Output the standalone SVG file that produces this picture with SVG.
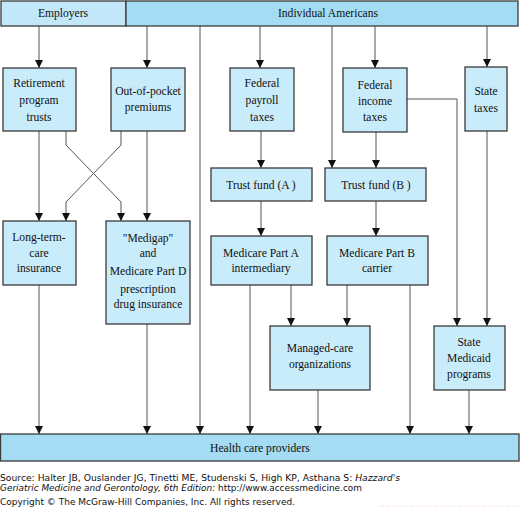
<svg xmlns="http://www.w3.org/2000/svg" width="520" height="507" viewBox="0 0 520 507">
<defs>
<marker id="ah" viewBox="0 0 10 10" refX="10" refY="5" markerWidth="8" markerHeight="8" markerUnits="userSpaceOnUse" orient="auto">
<path d="M0,0 L10,5 L0,10 Z" fill="#111"/>
</marker>
<style>
.box{fill:#c9ecfa;stroke:#3a3a3a;stroke-width:1.3}
.bar{fill:#a3dcf3;stroke:#3a3a3a;stroke-width:1.3}
.bar2{fill:#c2e7f8;stroke:#3a3a3a;stroke-width:1.3}
.c{fill:none;stroke:#555;stroke-width:1}
.a{marker-end:url(#ah)}
</style>
</defs>
<rect width="520" height="507" fill="#fff"/>

<g id="connectors">
<path class="c a" d="M39,26 V68"/>
<path class="c a" d="M147,26 V68"/>
<path class="c a" d="M200,26 V434"/>
<path class="c a" d="M260,26 V68"/>
<path class="c a" d="M332,26 V168"/>
<path class="c a" d="M375,26 V68"/>
<path class="c a" d="M487,26 V67"/>
<path class="c a" d="M39,131 V221"/>
<path class="c a" d="M66,131 V145 L121,202 V221"/>
<path class="c a" d="M121,131 V145 L66,202 V221"/>
<path class="c a" d="M147,131 V221"/>
<path class="c a" d="M261,131 V168"/>
<path class="c a" d="M376,131 V168"/>
<path class="c a" d="M407,99 H457 V326"/>
<path class="c a" d="M487,131 V326"/>
<path class="c a" d="M261,201 V236"/>
<path class="c a" d="M376,201 V236"/>
<path class="c a" d="M39,285 V434"/>
<path class="c a" d="M147,324 V434"/>
<path class="c a" d="M250,285 V434"/>
<path class="c a" d="M291,285 V326"/>
<path class="c a" d="M347,285 V326"/>
<path class="c a" d="M410,285 V434"/>
<path class="c a" d="M318,390 V434"/>
<path class="c a" d="M469,390 V434"/>
</g>

<g font-family="Liberation Serif, Times New Roman, serif" font-size="11.6" fill="#111" text-anchor="middle">
<g id="employers"><rect class="bar2" x="1" y="1" width="125" height="25"/><text x="63" y="17">Employers</text></g>
<g id="individual-americans"><rect class="bar" x="126" y="1" width="392" height="25"/><text x="328" y="17">Individual Americans</text></g>

<g id="retirement"><rect class="box" x="3" y="68" width="73" height="63"/><text x="39" y="87">Retirement</text><text x="39" y="104">program</text><text x="39" y="121">trusts</text></g>
<g id="out-of-pocket"><rect class="box" x="111" y="68" width="74" height="63"/><text x="148" y="95">Out-of-pocket</text><text x="148" y="111">premiums</text></g>
<g id="federal-payroll"><rect class="box" x="230" y="68" width="64" height="63"/><text x="262" y="87">Federal</text><text x="262" y="104">payroll</text><text x="262" y="121">taxes</text></g>
<g id="federal-income"><rect class="box" x="343" y="68" width="64" height="64"/><text x="375" y="89">Federal</text><text x="375" y="105">income</text><text x="375" y="121">taxes</text></g>
<g id="state-taxes"><rect class="box" x="465" y="67" width="42" height="64"/><text x="486" y="95">State</text><text x="486" y="112">taxes</text></g>

<g id="trust-a"><rect class="box" x="211" y="168" width="101" height="33"/><text x="261" y="189">Trust fund (A )</text></g>
<g id="trust-b"><rect class="box" x="325" y="168" width="101" height="33"/><text x="376" y="189">Trust fund (B )</text></g>

<g id="long-term-care"><rect class="box" x="3" y="221" width="73" height="64"/><text x="39" y="241">Long-term-</text><text x="39" y="257">care</text><text x="39" y="272">insurance</text></g>
<g id="medigap"><rect class="box" x="106" y="221" width="84" height="103"/><text x="148" y="242">"Medigap"</text><text x="148" y="257">and</text><text x="148" y="275">Medicare Part D</text><text x="148" y="293">prescription</text><text x="148" y="308">drug insurance</text></g>
<g id="part-a"><rect class="box" x="211" y="236" width="101" height="49"/><text x="261" y="257">Medicare Part A</text><text x="261" y="272">intermediary</text></g>
<g id="part-b"><rect class="box" x="327" y="236" width="101" height="49"/><text x="377" y="257">Medicare Part B</text><text x="377" y="272">carrier</text></g>

<g id="managed-care"><rect class="box" x="270" y="326" width="100" height="64"/><text x="320" y="352">Managed-care</text><text x="320" y="368">organizations</text></g>
<g id="state-medicaid"><rect class="box" x="434" y="326" width="71" height="64"/><text x="469" y="346">State</text><text x="469" y="362">Medicaid</text><text x="469" y="378">programs</text></g>

<g id="providers"><rect class="bar" x="0.5" y="434" width="518.5" height="27"/><text x="260" y="452">Health care providers</text></g>
</g>

<g id="source" font-family="DejaVu Sans, Verdana, sans-serif" font-size="8.3" fill="#111">
<text x="0" y="481" textLength="400" lengthAdjust="spacingAndGlyphs">Source: Halter JB, Ouslander JG, Tinetti ME, Studenski S, High KP, Asthana S: <tspan font-style="italic">Hazzard's</tspan></text>
<text x="0" y="491" textLength="362" lengthAdjust="spacingAndGlyphs"><tspan font-style="italic">Geriatric Medicine and Gerontology, 6th Edition:</tspan> http://www.accessmedicine.com</text>
<text x="0" y="505" textLength="295" lengthAdjust="spacingAndGlyphs">Copyright © The McGraw-Hill Companies, Inc. All rights reserved.</text>
<line x1="380" y1="506" x2="520" y2="506" stroke="#f0c4cc" stroke-width="1" stroke-dasharray="1,2"/>
</g>
</svg>
